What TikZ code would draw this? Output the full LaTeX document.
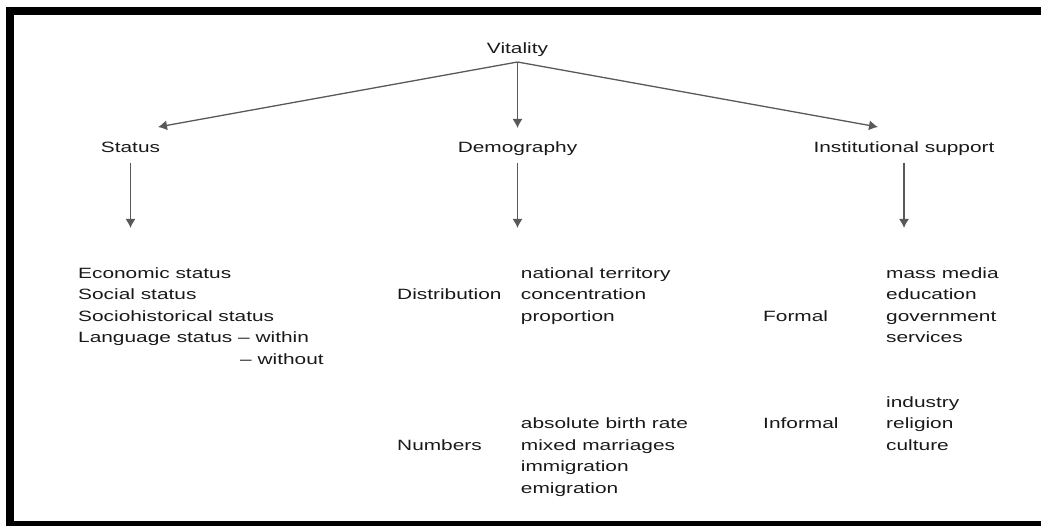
\documentclass[tikz,border=0pt]{standalone}
\usepackage{fontspec}
\setmainfont{Liberation Sans}[FakeStretch=1.4]
\usetikzlibrary{arrows.meta}

\tikzset{
	txt/.style={inner sep=0pt, text=black!90, font=\fontsize{14.9}{21.5}\selectfont},
	head/.style={txt, anchor=base},
	block/.style={txt, anchor=base west, align=left},
	link/.style={draw=black!65, line width=1.3pt, -{Latex[length=9pt,width=10pt]}}
}

\begin{document}
\begin{tikzpicture}[x=1pt, y=-1pt]
		\useasboundingbox (0,0) rectangle (1041,526);
		\clip (0,0) rectangle (1041,526);
		\draw[line width=8pt] (9.5,11) rectangle (1050,525);
		% top levels
		\node[head] (vit) at (517.5,53.3) {Vitality};
		\node[head] (stat) at (130.5,153) {Status};
		\node[head] (demo) at (517.5,153) {Demography};
		\node[head] (inst) at (904,153) {Institutional support};
		\coordinate (fork) at ([yshift=-8.7pt]vit.base);
		\draw[link] (fork) -- ([xshift=27.5pt,yshift=26pt]stat.base);
		\draw[link] (fork) -- ([yshift=25pt]demo.base);
		\draw[link] (fork) -- ([xshift=-26pt,yshift=26pt]inst.base);
		\draw[link] ([yshift=-10pt]stat.base) -- ++(0,65);
		\draw[link] ([yshift=-10pt]demo.base) -- ++(0,65);
		\draw[link] ([yshift=-10pt]inst.base) -- ++(0,65);
		% status (blocks sit on the baseline of their last line)
		\node[block] (statlist) at (78,342.8) {Economic status\\Social status\\Sociohistorical status\\Language status – within};
		\node[block] (without) at (240,364.3) {– without};
		% demography
		\node[block] (dist) at (397,299.8) {Distribution};
		\node[block] (distlist) at (520.7,321.3) {national territory\\concentration\\proportion};
		\node[block] (num) at (397,450.3) {Numbers};
		\node[block] (numlist) at (520.7,493.3) {absolute birth rate\\mixed marriages\\immigration\\emigration};
		% institutional support
		\node[block] (formal) at (763,321.3) {Formal};
		\node[block] (formlist) at (886,342.8) {mass media\\education\\government\\services};
		\node[block] (informal) at (763,428.8) {Informal};
		\node[block] (inflist) at (886,450.3) {industry\\religion\\culture};
	\end{tikzpicture}
\end{document}
